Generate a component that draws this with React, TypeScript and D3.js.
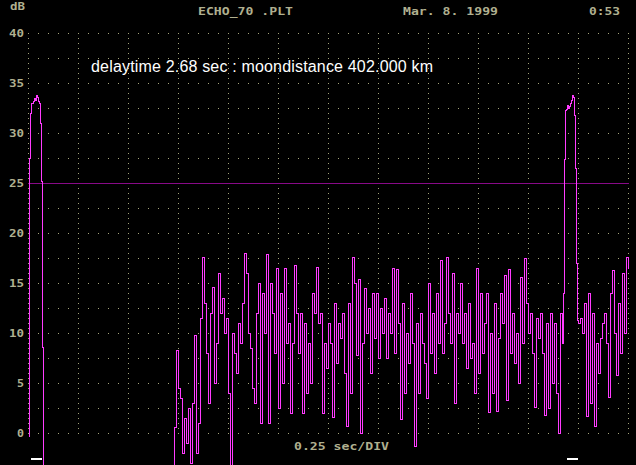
import React, { useEffect, useRef } from "react";
import * as d3 from "d3";

// first echo (transmit leak), 1 px per sample
const echo1Values = [-0.3, 27.5, 32, 33, 33, 33.2, 33.5, 33.3, 33.8, 33.6, 33.2, 33, 31, 25.2, 8.6, -6];

// receiver noise between the echoes, 2 px per sample
const noiseValues = [
  0.6, 8.3, 4.5, 3.5, -2, 1.5, -1, 2.5, -3, 3, 9.8, -2, 1, 11.5, 17.6, 13, 8, 3, 12, 14.6,
  5, 9, 16, 12, 13.5, 10, 11.5, 4, -4, 10, 8, 6, 11, 9, 13, 18, 16, 10, 8.5, 4.5,
  3, 12, 15, 1, 14, 10, 17.9, 1, 15, 12, 8, 16.5, 2.5, 14, 5, 16.5, 9, 11, 2, 9,
  16.8, 12, 8, 12, 2, 11, 4, 9, 5, 14, 12, 16.6, 11,
  12, 2, 9, 6.5, 11, 9, 1.6, 13, 7, 11, 9.5, 12, 6, 0.7, 13, 4, 17.6, 15, 7.8, 15.4,
  0, 9, 14.5, 10, 12.5, 6, 14, 9.5, 14, 7.5, 12.5, 10, 13.5, 7.5, 12, 10, 16.5, 8, 16.4, 11,
  1.4, 13, 4, 10, 7, 14, 9, -1.3, 11, 4, 12, 9, 7, 3.5, 15, 8, 12, 6, 14, 9,
  17.3, 8, 11, 17.6, 12, 9, 16, 3, 12, 10, 15, 9, 12, 6.5, 13, 7.5, 9, 4, 16.5,
  6, 14, 8, 11, 14, 2.1, 10, 4, 13, 2.2, 9.5, 14, 11, 15.8, 3.3, 16.4, 8, 12, 7, 10,
  5, 15.6, 9, 17.5, 13, 10, 12, 8, 2.6, 11.5, 9.5, 12, 8, 1.8, 11, 2.5, 12, 5, 11, 4,
  0, 12, 9,
];

// moon echo, 1 px per sample
const echo2Values = [14, 27.4, 32.3, 32.4, 32.8, 32.5, 32.7, 33, 33.3, 33.8, 33.6, 31.8, 26.5, 17, 11.3];

// noise after the echo, 2 px per sample
const tailValues = [
  11, 11.5, 10, 13, 1.7, 14, 3, 12, 0.7, 9, 6, 9.5, 11, 12, 9, 3.6, 14, 16.3, 10, 5.8,
  13, 8, 16, 10, 17.6, 16.5,
];

const yTickLabels = ["40", "35", "30", "25", "20", "15", "10", "5", "0"];
const markerTimes = [0.01, 2.69];
const referenceLevel = 25;

const headerTexts = [
  { text: "dB", x: 10, y: 9.5 },
  { text: "ECHO_70 .PLT", x: 198, y: 15 },
  { text: "Mar. 8. 1999", x: 403, y: 15 },
  { text: "0:53", x: 589, y: 15 },
  { text: "0.25 sec/DIV", x: 294, y: 450 },
];

const W = 636;
const H = 465;
const KHAKI = "#b0b090";
const DOT = "#a4a47c";

const App: React.FC = () => {
  const svgRef = useRef<SVGSVGElement>(null);

  useEffect(() => {
    if (!svgRef.current) return;
    const svg = d3.select(svgRef.current);
    svg.selectAll("*").remove();

    const x = d3.scaleLinear().domain([0, 3]).range([28.5, 628.5]);
    const y = d3.scaleLinear().domain([0, 40]).range([433.5, 33.5]);

    svg.append("rect").attr("width", W).attr("height", H).attr("fill", "#000");

    // dotted grid: rows every 2.5 dB, columns every 0.25 s
    const grid = svg.append("g").attr("fill", DOT);
    const rows = d3.range(0, 40.001, 2.5);
    const cols = d3.range(0, 3.001, 0.25);
    rows.forEach(v => {
      const py = Math.floor(y(v));
      for (let px = 28; px <= 628; px += 10) {
        grid.append("rect").attr("x", px).attr("y", py).attr("width", 1).attr("height", 1);
      }
    });
    cols.forEach(t => {
      const px = Math.floor(x(t));
      for (let py = 33; py <= 433; py += 5) {
        grid.append("rect").attr("x", px).attr("y", py).attr("width", 1).attr("height", 1);
      }
    });

    // reference level
    svg.append("line")
      .attr("x1", x(0) - 0.5)
      .attr("x2", x(3) + 0.5)
      .attr("y1", y(referenceLevel))
      .attr("y2", y(referenceLevel))
      .attr("stroke", "#880a88")
      .attr("stroke-width", 1);

    // y labels
    const mono = "'DejaVu Sans Mono', 'Liberation Mono', monospace";
    svg.append("g")
      .selectAll("text")
      .data(yTickLabels)
      .enter()
      .append("text")
      .attr("x", d => 25 - d.length * 8)
      .attr("y", d => y(+d) + 3.5)
      .attr("textLength", d => d.length * 8 - 1)
      .attr("lengthAdjust", "spacingAndGlyphs")
      .attr("font-family", mono)
      .attr("font-weight", "bold")
      .attr("font-size", 10)
      .attr("fill", KHAKI)
      .text(d => d);

    svg.append("g")
      .selectAll("text")
      .data(headerTexts)
      .enter()
      .append("text")
      .attr("x", d => d.x)
      .attr("y", d => d.y)
      .attr("textLength", d => d.text.length * 8 - 1)
      .attr("lengthAdjust", "spacingAndGlyphs")
      .attr("font-family", mono)
      .attr("font-weight", "bold")
      .attr("font-size", 10)
      .attr("fill", KHAKI)
      .attr("xml:space", "preserve")
      .style("white-space", "pre")
      .text(d => d.text);

    svg.append("text")
      .attr("x", 91)
      .attr("y", 72)
      .attr("font-family", "'Liberation Sans', Arial, sans-serif")
      .attr("font-size", 16)
      .attr("textLength", 342)
      .attr("lengthAdjust", "spacing")
      .attr("fill", "#fff")
      .text("delaytime 2.68 sec : moondistance 402.000 km");

    // signal trace
    const segments = [
      { start: 0, step: 0.005, values: echo1Values },
      { start: 0.73, step: 0.01, values: noiseValues },
      { start: 2.675, step: 0.005, values: echo2Values },
      { start: 2.75, step: 0.01, values: tailValues },
    ];
    const points = segments.flatMap(s => s.values.map((v, i) => ({ t: s.start + i * s.step, v })));

    const line = d3.line<{ t: number; v: number }>()
      .x(d => x(d.t))
      .y(d => y(d.v))
      .curve(d3.curveStepAfter);

    svg.append("path")
      .datum(points)
      .attr("d", line)
      .attr("fill", "none")
      .attr("stroke", "#ff3cff")
      .attr("stroke-width", 1)
      .attr("shape-rendering", "crispEdges");

    // echo markers
    svg.append("g")
      .selectAll("rect")
      .data(markerTimes)
      .enter()
      .append("rect")
      .attr("x", d => Math.round(x(d)))
      .attr("y", 458)
      .attr("width", 11)
      .attr("height", 2)
      .attr("fill", "#fff");
  }, []);

  return (
    <div style={{ position: "absolute", left: 0, top: 0, width: W, height: H, background: "#000" }}>
      <svg ref={svgRef} width={W} height={H} style={{ display: "block" }} />
    </div>
  );
};

export default App;
